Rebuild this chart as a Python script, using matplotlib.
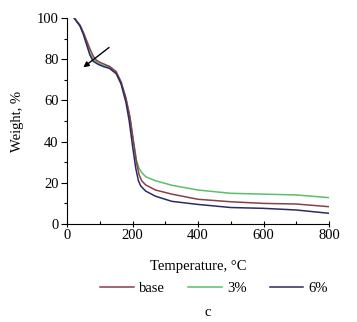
import matplotlib
matplotlib.use("Agg")
import matplotlib.pyplot as plt
from matplotlib.ticker import MultipleLocator

plt.rcParams['font.family'] = ['Liberation Serif', 'DejaVu Serif']

t_base = [22, 40, 50, 60, 70, 80, 90, 100, 115, 130, 150, 165, 180, 192, 202, 212, 220, 228, 240, 270, 320, 400, 500, 600, 700, 800]
w_base = [100, 96.5, 93, 89, 85, 81.5, 79.5, 78.5, 77.5, 76.5, 74, 69, 61, 52, 41, 30, 24, 21, 19, 16.5, 14.5, 12, 10.8, 10, 9.7, 8.4]

t_3 = [22, 40, 50, 60, 70, 80, 95, 110, 130, 150, 165, 180, 192, 202, 212, 220, 228, 240, 270, 320, 400, 500, 600, 700, 800]
w_3 = [100, 96, 92.5, 88, 83, 80, 78, 77, 76, 73.5, 69, 61, 52, 41, 31, 27, 25, 23, 21, 18.8, 16.5, 14.9, 14.5, 14.1, 12.8]

t_6 = [22, 40, 50, 60, 70, 80, 95, 110, 130, 150, 165, 180, 190, 200, 210, 218, 225, 240, 270, 320, 400, 500, 600, 700, 800]
w_6 = [100, 96, 92, 87, 82, 79, 77.5, 76.5, 75.5, 73, 68, 59, 50, 38, 27, 21, 18.5, 16, 13.5, 11, 9.5, 8, 7.6, 6.8, 5.2]

labels = ['base', '3%', '6%']
colors = ['#8a3f4c', '#5cbf6a', '#2b2b63']

fs = 10.5
fig = plt.figure(figsize=(3.57, 3.22), dpi=100)
ax = fig.add_axes([67/357, 1-224/322, (329-67)/357, (224-18)/322])

l3, = ax.plot(t_3, w_3, color=colors[1], lw=1.1, label=labels[1])
lb, = ax.plot(t_base, w_base, color=colors[0], lw=1.1, label=labels[0])
l6, = ax.plot(t_6, w_6, color=colors[2], lw=1.1, label=labels[2])

ax.annotate('', xy=(43, 75.2), xytext=(135, 86.5),
            arrowprops=dict(arrowstyle='-|>', color='black', lw=1.0, mutation_scale=8))

ax.set_xlim(0, 800)
ax.set_ylim(0, 100)
ax.xaxis.set_major_locator(MultipleLocator(200))
ax.xaxis.set_minor_locator(MultipleLocator(100))
ax.yaxis.set_major_locator(MultipleLocator(20))
ax.yaxis.set_minor_locator(MultipleLocator(10))
for s in ['top', 'right']:
    ax.spines[s].set_visible(False)
ax.tick_params(which='major', length=4, width=0.8, labelsize=fs, colors='black', pad=2)
ax.tick_params(which='minor', length=2.5, width=0.8)
ax.tick_params(axis='x', which='major', direction='inout', length=5, pad=1)
ax.tick_params(axis='x', which='minor', direction='in', length=2.5)
ax.set_xlabel('Temperature, °C', fontsize=fs, labelpad=13)
ax.set_ylabel('Weight, %', fontsize=fs, labelpad=9)

fig.legend([lb, l3, l6], labels, loc='center', bbox_to_anchor=(0.6, 1-288/322),
           ncol=3, frameon=False, fontsize=fs, handlelength=2.3, columnspacing=1.6,
           handletextpad=0.35)
fig.text(208/357, 1-313/322, 'c', ha='center', va='center', fontsize=fs)

fig.savefig('out.png', dpi=100)
